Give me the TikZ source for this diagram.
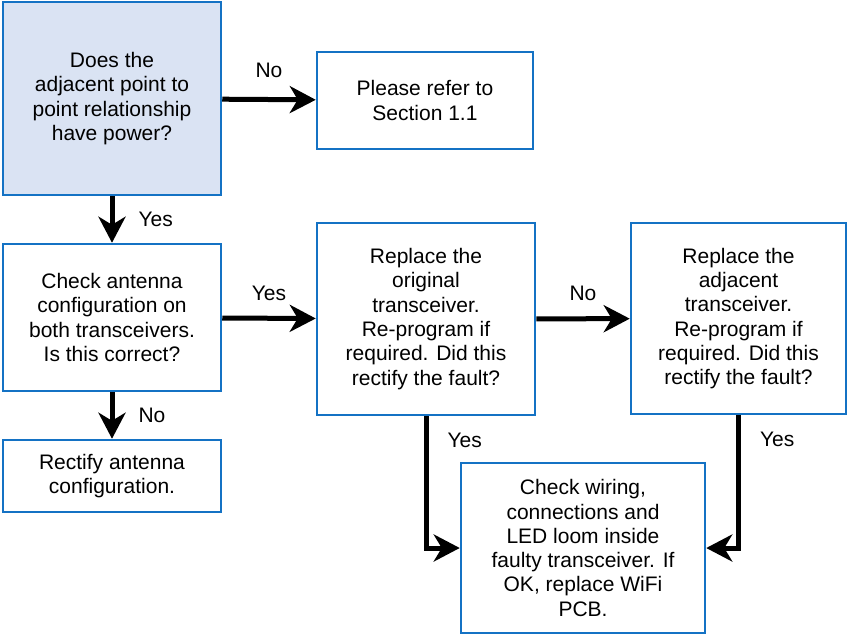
\documentclass[tikz,border=0pt]{standalone}
\usepackage{fontspec}
\setmainfont{Liberation Sans}
\usetikzlibrary{arrows.meta}
\definecolor{boxblue}{RGB}{20,114,196}
\definecolor{boxfill}{RGB}{218,227,243}
\begin{document}
\begin{tikzpicture}[x=1pt,y=-1pt,
  >={Stealth[length=26pt,width=27pt,inset=8pt]},
  every node/.style={font=\fontsize{21pt}{24.3pt}\selectfont},
  box/.style={draw=boxblue,line width=2.5pt,align=center,inner sep=0pt},
  flow/.style={->,line width=5pt},
  lbl/.style={inner sep=0pt}]
 \useasboundingbox (0,0) rectangle (848,635);
 % boxes
 \node[box,fill=boxfill,minimum width=218pt,minimum height=193pt] (power) at (112,98.5)
  {Does the\\adjacent point to\\point relationship\\have power?};
 \node[box,minimum width=216pt,minimum height=97pt] (refer) at (425,100.5)
  {Please refer to\\Section 1.1};
 \node[box,minimum width=218pt,minimum height=147pt] (antenna) at (112,317.5)
  {Check antenna\\configuration on\\both transceivers.\\Is this correct?};
 \node[box,minimum width=218pt,minimum height=72pt] (rectify) at (112,476)
  {Rectify antenna\\configuration.};
 \node[box,minimum width=218pt,minimum height=192pt] (original) at (426,319)
  {Replace the\\original\\transceiver.\\Re-program if\\required. Did this\\rectify the fault?};
 \node[box,minimum width=215pt,minimum height=191pt] (adjacent) at (738.5,318.5)
  {Replace the\\adjacent\\transceiver.\\Re-program if\\required. Did this\\rectify the fault?};
 \node[box,minimum width=244pt,minimum height=170pt] (wiring) at (583,548)
  {Check wiring,\\connections and\\LED loom inside\\faulty transceiver. If\\OK, replace WiFi\\PCB.};
 % connectors
 \draw[flow] (power) -- node[lbl,above=19pt] {No} (refer);
 \draw[flow] (power) -- node[lbl,right=24pt] {Yes} (antenna);
 \draw[flow] (antenna) -- node[lbl,above=15pt] {Yes} (original);
 \draw[flow] (antenna) -- node[lbl,right=24pt] {No} (rectify);
 \draw[flow] (original) -- node[lbl,above=16pt] {No} (adjacent);
 \draw[flow] (original.south) |- node[lbl,pos=.09,right=19pt] {Yes} (wiring.west);
 \draw[flow] (adjacent.south) |- node[lbl,pos=.09,right=19pt] {Yes} (wiring.east);
\end{tikzpicture}
\end{document}
